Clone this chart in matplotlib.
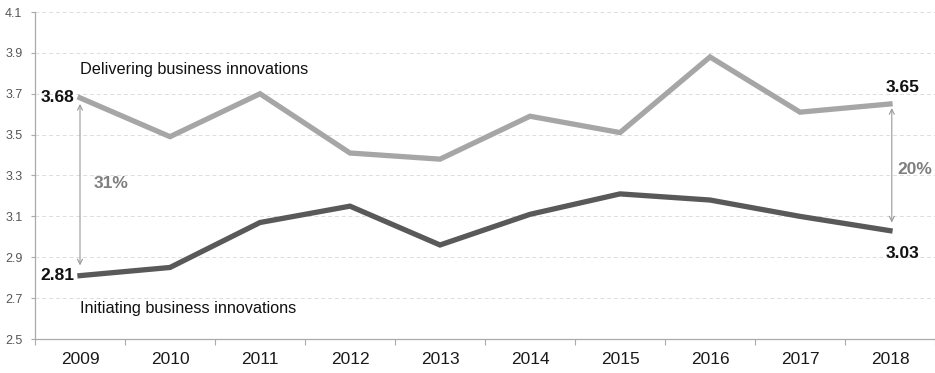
import matplotlib
matplotlib.use("Agg")
import matplotlib.pyplot as plt
from matplotlib.ticker import FixedLocator
import numpy as np

years = ["2009", "2010", "2011", "2012", "2013", "2014", "2015", "2016", "2017", "2018"]
delivering = [3.68, 3.49, 3.70, 3.41, 3.38, 3.59, 3.51, 3.88, 3.61, 3.65]
initiating = [2.81, 2.85, 3.07, 3.15, 2.96, 3.11, 3.21, 3.18, 3.10, 3.03]
y_ticks = [2.5, 2.7, 2.9, 3.1, 3.3, 3.5, 3.7, 3.9, 4.1]

plt.rcParams["font.family"] = ["Liberation Sans Narrow", "Liberation Sans", "DejaVu Sans"]

fig = plt.figure(figsize=(9.35, 3.73), dpi=100)
ax = fig.add_axes([35 / 935, 1 - 339 / 373, 1 - 35 / 935, (339 - 12) / 373])

x = np.arange(len(years))
ax.plot(x, delivering, color="#a6a6a6", lw=3.8, solid_joinstyle="miter", zorder=3)
ax.plot(x, initiating, color="#595959", lw=3.8, solid_joinstyle="miter", zorder=3)

ax.set_xlim(-0.5, len(years) - 0.5)
ax.set_ylim(2.5, 4.1)
ax.set_yticks(y_ticks)
ax.set_yticklabels([f"{v:.1f}" for v in y_ticks], fontsize=9, color="#555555")
ax.set_xticks(x)
ax.set_xticklabels(years, fontsize=12.5, color="#1a1a1a")
ax.xaxis.set_minor_locator(FixedLocator(np.arange(-0.5, len(years), 1.0)))
ax.tick_params(axis="x", which="major", length=0, pad=9)
ax.tick_params(axis="x", which="minor", length=4, color="#aaaaaa", width=0.8)
ax.tick_params(axis="y", length=3, color="#aaaaaa", width=0.8, pad=6)

ax.grid(axis="y", color="#dddddd", linestyle=(0, (4, 3)), lw=0.7, zorder=0)
for side in ("top", "right"):
    ax.spines[side].set_visible(False)
for side in ("left", "bottom"):
    ax.spines[side].set_color("#aaaaaa")
    ax.spines[side].set_linewidth(0.9)

# end-point value labels
ax.text(x[0] - 0.06, delivering[0], f"{delivering[0]:.2f}", ha="right", va="center",
        fontsize=12.5, fontweight="bold", color="#111111")
ax.text(x[0] - 0.06, initiating[0], f"{initiating[0]:.2f}", ha="right", va="center",
        fontsize=12.5, fontweight="bold", color="#111111")
ax.text(x[-1] + 0.14, delivering[-1] + 0.08, f"{delivering[-1]:.2f}", ha="center", va="center",
        fontsize=12.5, fontweight="bold", color="#111111")
ax.text(x[-1] + 0.14, initiating[-1] - 0.11, f"{initiating[-1]:.2f}", ha="center", va="center",
        fontsize=12.5, fontweight="bold", color="#111111")

# series names
ax.text(x[0], 3.82, "Delivering business innovations", ha="left", va="center",
        fontsize=11.7, color="#111111")
ax.text(x[0], 2.65, "Initiating business innovations", ha="left", va="center",
        fontsize=11.7, color="#111111")

# gap arrows with percentage differences
gap_first = (delivering[0] - initiating[0]) / initiating[0]
gap_last = (delivering[-1] - initiating[-1]) / initiating[-1]
arrow = dict(arrowstyle="<->", color="#999999", lw=0.8, shrinkA=0, shrinkB=0,
             mutation_scale=9)
ax.annotate("", xy=(x[0], initiating[0] + 0.05), xytext=(x[0], delivering[0] - 0.03),
            arrowprops=arrow)
ax.annotate("", xy=(x[-1] + 0.02, initiating[-1] + 0.04), xytext=(x[-1] + 0.02, delivering[-1] - 0.02),
            arrowprops=arrow)
ax.text(x[0] + 0.15, 3.26, f"{gap_first:.0%}", ha="left", va="center",
        fontsize=12.5, fontweight="bold", color="#7f7f7f")
ax.text(x[-1] + 0.08, 3.33, f"{gap_last:.0%}", ha="left", va="center",
        fontsize=12.5, fontweight="bold", color="#7f7f7f")

fig.savefig("out.png", dpi=100)
